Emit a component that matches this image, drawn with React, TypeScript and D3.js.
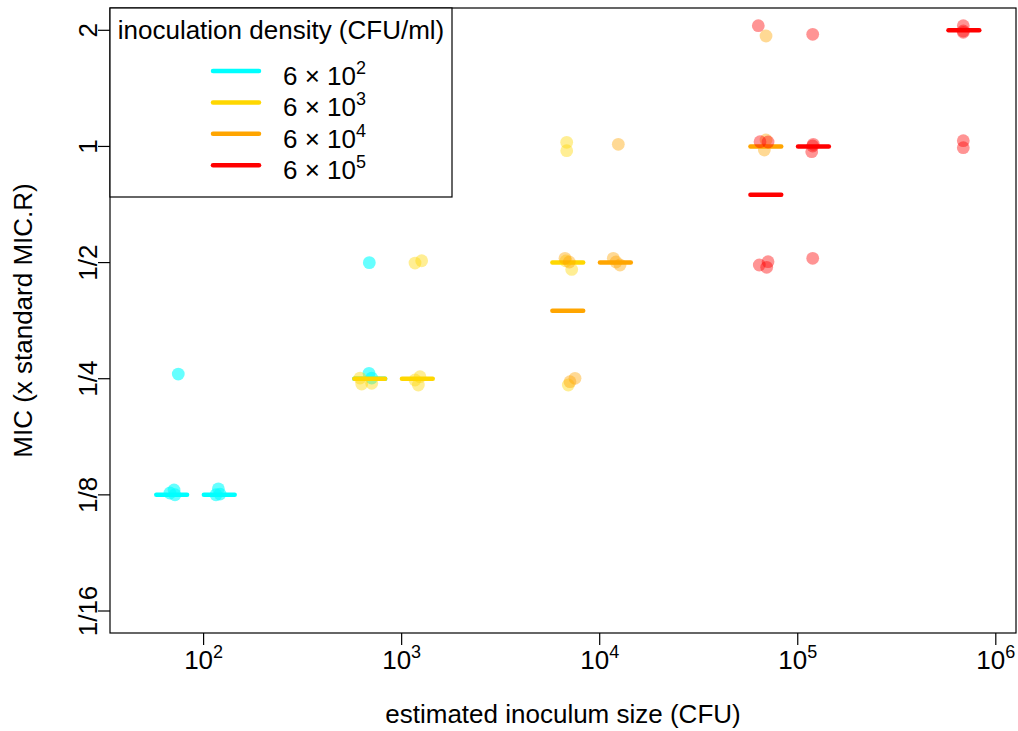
import React from 'react'
import * as d3 from 'd3'

// inoculation densities (CFU/ml), shown as 6 x 10^k
const densityExponents = [2, 3, 4, 5]
const densityColors = ['#00FFFF', '#FFD700', '#FFA500', '#FF0000']
const densityAlpha = [0.6, 0.42, 0.42, 0.42]

// points: [inoculum size (CFU), MIC (x standard MIC.R)], jitter included
const cyanPoints = [
  [74.5, 0.257], [70.9, 0.1287], [71.7, 0.1251], [67.6, 0.1264],
  [118.7, 0.1296], [115.5, 0.1251], [121.0, 0.1256],
  [686.6, 0.4998], [684.2, 0.2582], [706, 0.251],
]
const goldPoints = [
  [628.5, 0.2422], [706.1, 0.2432], [616.2, 0.251],
  [1168, 0.4985], [1262, 0.5055], [1238, 0.253], [1214, 0.2408], [1168, 0.2481],
  [6814, 1.025], [6814, 0.975], [6750, 0.505], [7221, 0.48], [6942, 0.2408],
]
const orangePoints = [
  [6680, 0.5129], [7022, 0.5017], [7079, 0.2456], [7506, 0.2506],
  [12416, 1.0128], [11715, 0.5129], [12088, 0.5017], [12664, 0.4928],
  [69150, 1.933], [69150, 1.0392], [67800, 0.979],
]
const redPoints = [
  [63220, 2.0555], [64480, 1.0287], [70800, 1.0268], [63950, 0.4928], [70800, 0.5026], [69700, 0.486],
  [119000, 1.953], [119800, 1.0128], [117600, 0.9691], [119000, 1.0026], [119000, 0.5129],
  [685200, 2.0555], [685200, 1.9917], [685200, 1.976], [685200, 1.0348], [685200, 0.9925],
]

// medians per group: [inoculum size, median MIC]
const cyanMedians = [[69, 0.125], [120, 0.125], [690, 0.25]]
const goldMedians = [[690, 0.25], [1200, 0.25], [6900, 0.5]]
const orangeMedians = [[6900, 0.375], [12000, 0.5], [69000, 1]]
const redMedians = [[69000, 0.75], [120000, 1], [690000, 2]]

const xTickExponents = [2, 3, 4, 5, 6]
const yTicks = [2, 1, 0.5, 0.25, 0.125, 0.0625]
const yTickLabels = ['2', '1', '1/2', '1/4', '1/8', '1/16']

const allPoints = [cyanPoints, goldPoints, orangePoints, redPoints]
const allMedians = [cyanMedians, goldMedians, orangeMedians, redMedians]

const W = 1018, H = 731
const box = { left: 110, top: 8, right: 1016, bottom: 633 }
const font = '"Liberation Sans", Arial, sans-serif'
const fs = 26
const sup = 18

export default function App() {
  const x = d3.scaleLog().domain([1e2, 1e6]).range([203.6, 995.8])
  const y = d3.scaleLog().base(2).domain([2, 0.0625]).range([30.3, 611])

  return (
    <svg width={W} height={H} style={{ position: 'absolute', left: 0, top: 0, background: '#fff' }}
      fontFamily={font}>
      <rect x={0} y={0} width={W} height={H} fill="#fff" />

      {/* points and medians, one density at a time */}
      {allPoints.map((pts, i) => (
        <g key={i}>
          {pts.map((d, j) => (
            <circle key={j} cx={x(d[0])} cy={y(d[1])} r={6.4} fill={densityColors[i]} fillOpacity={densityAlpha[i]} />
          ))}
          {allMedians[i].map((m, j) => (
            <line key={'m' + j} x1={x(m[0]) - 15.4} x2={x(m[0]) + 15.4} y1={y(m[1])} y2={y(m[1])}
              stroke={densityColors[i]} strokeWidth={4.5} strokeLinecap="round" />
          ))}
        </g>
      ))}

      {/* box */}
      <rect x={box.left} y={box.top} width={box.right - box.left} height={box.bottom - box.top}
        fill="none" stroke="#000" strokeWidth={1.2} />

      {/* x axis */}
      {xTickExponents.map(e => {
        const px = x(Math.pow(10, e))
        return (
          <g key={e}>
            <line x1={px} x2={px} y1={box.bottom} y2={box.bottom + 12} stroke="#000" strokeWidth={1.2} />
            <text x={px} y={669} textAnchor="middle" fontSize={fs}>
              10<tspan dy={-11} fontSize={sup}>{e}</tspan>
            </text>
          </g>
        )
      })}
      <text x={(box.left + box.right) / 2} y={723} textAnchor="middle" fontSize={fs}>
        estimated inoculum size (CFU)
      </text>

      {/* y axis */}
      {yTicks.map((t, i) => (
        <g key={t}>
          <line x1={box.left - 12} x2={box.left} y1={y(t)} y2={y(t)} stroke="#000" strokeWidth={1.2} />
          <text transform={`translate(97,${y(t)}) rotate(-90)`} textAnchor="middle" fontSize={fs}>
            {yTickLabels[i]}
          </text>
        </g>
      ))}
      <text transform={`translate(32,${(box.top + box.bottom) / 2}) rotate(-90)`} textAnchor="middle" fontSize={fs}>
        MIC (x standard MIC.R)
      </text>

      {/* legend */}
      <rect x={box.left} y={box.top} width={342} height={189} fill="#fff" stroke="#000" strokeWidth={1.2} />
      <text x={281} y={39} textAnchor="middle" fontSize={fs}>inoculation density (CFU/ml)</text>
      {densityExponents.map((e, i) => {
        const ly = 71 + i * 31.4
        return (
          <g key={e}>
            <line x1={213} x2={259} y1={ly} y2={ly} stroke={densityColors[i]} strokeWidth={4.5} strokeLinecap="round" />
            <text x={283} y={ly + 14} fontSize={fs}>
              6 {'\u00D7'} 10<tspan dy={-11} fontSize={sup}>{e}</tspan>
            </text>
          </g>
        )
      })}
    </svg>
  )
}
